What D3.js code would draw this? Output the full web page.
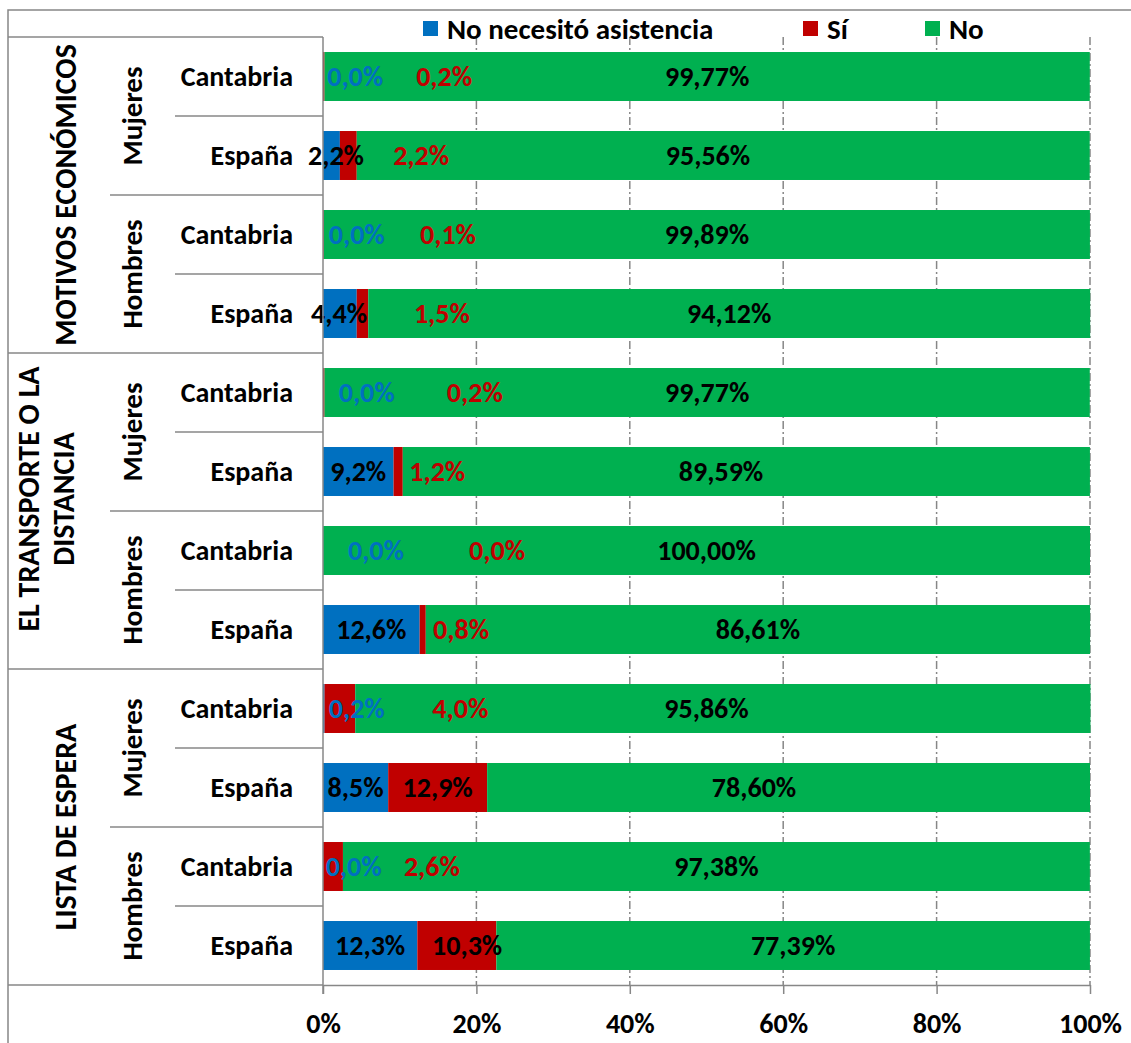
<!DOCTYPE html>
<html>
<head>
<meta charset="utf-8">
<script src="https://cdn.jsdelivr.net/npm/d3@7"></script>
<style>
  body { margin: 0; background: #fff; }
  text { font-family: Calibri, Carlito, Lato, sans-serif; font-weight: bold; }
</style>
</head>
<body>
<svg id="chart" width="1131" height="1043"></svg>
<script>
// ---- data -------------------------------------------------------------
const groups = [["MOTIVOS ECONÓMICOS"], ["EL TRANSPORTE O LA", "DISTANCIA"], ["LISTA DE ESPERA"]];
const sexes = ["Mujeres", "Hombres"];
const regions = ["Cantabria", "España"];
const seriesNames = ["No necesitó asistencia", "Sí", "No"];

// one value per row, rows ordered group > sex > region
const noNecesito = [0.0, 2.2, 0.0, 4.4, 0.0, 9.2, 0.0, 12.6, 0.2, 8.5, 0.0, 12.3];
const siValues   = [0.2, 2.2, 0.1, 1.5, 0.2, 1.2, 0.0, 0.8, 4.0, 12.9, 2.6, 10.3];
const noValues   = [99.77, 95.56, 99.89, 94.12, 99.77, 89.59, 100.00, 86.61, 95.86, 78.60, 97.38, 77.39];

const xTicks = [0, 20, 40, 60, 80, 100];

// where each data label sits along the bar (percent); null = middle of its segment
const noNecesitoLabelAt = [4.2, 1.7, 4.4, 2.1, 5.7, null, 6.9, null, 4.4, null, 4.0, null];
const siLabelAt         = [15.8, 12.8, 16.3, 15.5, 19.8, 14.9, 22.7, 18.0, 17.9, null, 14.2, 18.8];
const noLabelAt         = [null, 50.2, null, null, null, 51.9, null, null, 50.0, 56.2, null, null];

// ---- layout -----------------------------------------------------------
const colors = ["#0070C0", "#C00000", "#00B050"];
const gridColor = "#878787";
const plot = { left: 323, right: 1090, top: 37, bottom: 985 };
const frame = { x: 8, y: 10 };
const sexColX = 110, regionColX = 175;
const font = { value: 28, region: 28, sex: 29, group: 30, legend: 29, tick: 28 };

const svg = d3.select("#chart");

const rows = groups.flatMap((g, gi) =>
  sexes.flatMap((s, si) =>
    regions.map((r, ri) => ({ gi, si, ri, region: r }))));
rows.forEach((d, i) => {
  d.id = i;
  d.values = [noNecesito[i], siValues[i], noValues[i]];
  d.labelAt = [noNecesitoLabelAt[i], siLabelAt[i], noLabelAt[i]];
});

const x = d3.scaleLinear().domain([0, 100]).range([plot.left, plot.right]);
const y = d3.scaleBand()
  .domain(rows.map(d => d.id))
  .range([plot.top, plot.bottom])
  .paddingInner(0.38)
  .paddingOuter(0.19);
const step = y.step();
const bandCenter = i => y(i) + y.bandwidth() / 2;

const locale = d3.formatLocale({ decimal: ",", thousands: ".", grouping: [3], currency: ["", "€"] });
const fmt1 = v => locale.format(".1f")(v) + "%";
const fmt2 = v => locale.format(".2f")(v) + "%";

// outer chart frame (runs past the right and bottom edges)
svg.append("rect")
  .attr("x", frame.x).attr("y", frame.y)
  .attr("width", 1200).attr("height", 1200)
  .attr("fill", "none").attr("stroke", gridColor).attr("stroke-width", 1.5);

// ---- gridlines ----------------------------------------------------------
svg.append("g").selectAll("line")
  .data(xTicks.filter(t => t > 0))
  .join("line")
  .attr("x1", d => x(d)).attr("x2", d => x(d))
  .attr("y1", plot.top).attr("y2", plot.bottom)
  .attr("stroke", gridColor).attr("stroke-width", 1.5)
  .attr("stroke-dasharray", "8,3,2,3");

// ---- bars -------------------------------------------------------------
const stack = d3.stack().keys([0, 1, 2]).value((d, k) => d.values[k]);
const layers = stack(rows);

svg.append("g").selectAll("g")
  .data(layers)
  .join("g")
  .attr("fill", (d, i) => colors[i])
  .selectAll("rect")
  .data(d => d)
  .join("rect")
  .attr("x", d => x(d[0]))
  .attr("width", d => x(d[1]) - x(d[0]))
  .attr("y", d => y(d.data.id))
  .attr("height", y.bandwidth());

// ---- data labels ------------------------------------------------------
const labels = [];
layers.forEach((layer, k) => {
  layer.forEach(seg => {
    const row = seg.data;
    const at = row.labelAt[k] != null ? row.labelAt[k] : (seg[0] + seg[1]) / 2;
    const inside = at >= seg[0] && at <= seg[1] && seg[1] - seg[0] > 0;
    labels.push({
      x: x(at),
      y: bandCenter(row.id),
      text: k === 2 ? fmt2(row.values[k]) : fmt1(row.values[k]),
      color: inside ? "#000" : colors[k]
    });
  });
});
svg.append("g").selectAll("text")
  .data(labels)
  .join("text")
  .attr("x", d => d.x).attr("y", d => d.y)
  .attr("text-anchor", "middle")
  .attr("dominant-baseline", "central")
  .attr("font-size", font.value)
  .attr("fill", d => d.color)
  .text(d => d.text);

// ---- x axis -----------------------------------------------------------
const xAxis = svg.append("g")
  .attr("transform", `translate(0,${plot.bottom})`)
  .call(d3.axisBottom(x).tickValues(xTicks).tickFormat(d => d + "%").tickSize(9).tickPadding(19).tickSizeOuter(0));
xAxis.select(".domain").attr("stroke", gridColor).attr("stroke-width", 1.5);
xAxis.selectAll(".tick line").attr("stroke", gridColor).attr("stroke-width", 1.5);
xAxis.selectAll(".tick text")
  .attr("font-size", font.tick)
  .attr("fill", "#000")
  .style("font-family", "Calibri, Carlito, Lato, sans-serif")
  .style("font-weight", "bold");

// ---- multi-level category axis -----------------------------------------
const cat = svg.append("g");
// vertical axis line
cat.append("line")
  .attr("x1", plot.left).attr("x2", plot.left)
  .attr("y1", plot.top).attr("y2", plot.bottom + 9)
  .attr("stroke", gridColor).attr("stroke-width", 1.5);

// boundary lines between rows; longer ones mark sex and group changes
const boundaries = d3.range(rows.length + 1).map(i => {
  let x1 = regionColX;
  if (i % 4 === 0) x1 = frame.x;
  else if (i % 2 === 0) x1 = sexColX;
  return { y: plot.top + i * step, x1 };
});
cat.selectAll("line.b")
  .data(boundaries)
  .join("line")
  .attr("class", "b")
  .attr("x1", d => d.x1).attr("x2", plot.left)
  .attr("y1", d => d.y).attr("y2", d => d.y)
  .attr("stroke", gridColor).attr("stroke-width", 1.5);

// region names
cat.selectAll("text.region")
  .data(rows)
  .join("text")
  .attr("class", "region")
  .attr("x", 293)
  .attr("y", d => bandCenter(d.id))
  .attr("text-anchor", "end")
  .attr("dominant-baseline", "central")
  .attr("font-size", font.region)
  .text(d => d.region);

// sex names, rotated, centred on their pair of rows
const sexCells = groups.flatMap((g, gi) => sexes.map((s, si) => ({
  name: s,
  cy: plot.top + (gi * 4 + si * 2 + 1) * step
})));
cat.selectAll("text.sex")
  .data(sexCells)
  .join("text")
  .attr("class", "sex")
  .attr("transform", d => `translate(132,${d.cy}) rotate(-90)`)
  .attr("text-anchor", "middle")
  .attr("dominant-baseline", "central")
  .attr("font-size", font.sex)
  .text(d => d.name);

// group names, rotated, possibly on two lines
const lineGap = 35;
const groupCells = groups.map((lines, gi) => ({
  lines,
  cy: plot.top + (gi * 4 + 2) * step - (lines.length > 1 ? 12 : 0),
  cx: lines.length > 1 ? 45 : 65
}));
const gText = cat.selectAll("text.group")
  .data(groupCells)
  .join("text")
  .attr("class", "group")
  .attr("transform", d => `translate(${d.cx},${d.cy}) rotate(-90)`)
  .attr("text-anchor", "middle")
  .attr("dominant-baseline", "central")
  .attr("font-size", font.group);
gText.selectAll("tspan")
  .data(d => d.lines.map((t, i) => ({ t, off: (i - (d.lines.length - 1) / 2) * lineGap })))
  .join("tspan")
  .attr("x", 0)
  .attr("y", d => d.off)
  .text(d => d.t);

// ---- legend -----------------------------------------------------------
const legendX = [423, 803, 925];
const legend = svg.append("g").selectAll("g")
  .data(seriesNames)
  .join("g")
  .attr("transform", (d, i) => `translate(${legendX[i]},21)`);
legend.append("rect")
  .attr("width", 15).attr("height", 15)
  .attr("fill", (d, i) => colors[i]);
legend.append("text")
  .attr("x", 24).attr("y", 8)
  .attr("dominant-baseline", "central")
  .attr("font-size", font.legend)
  .text(d => d);
</script>
</body>
</html>
